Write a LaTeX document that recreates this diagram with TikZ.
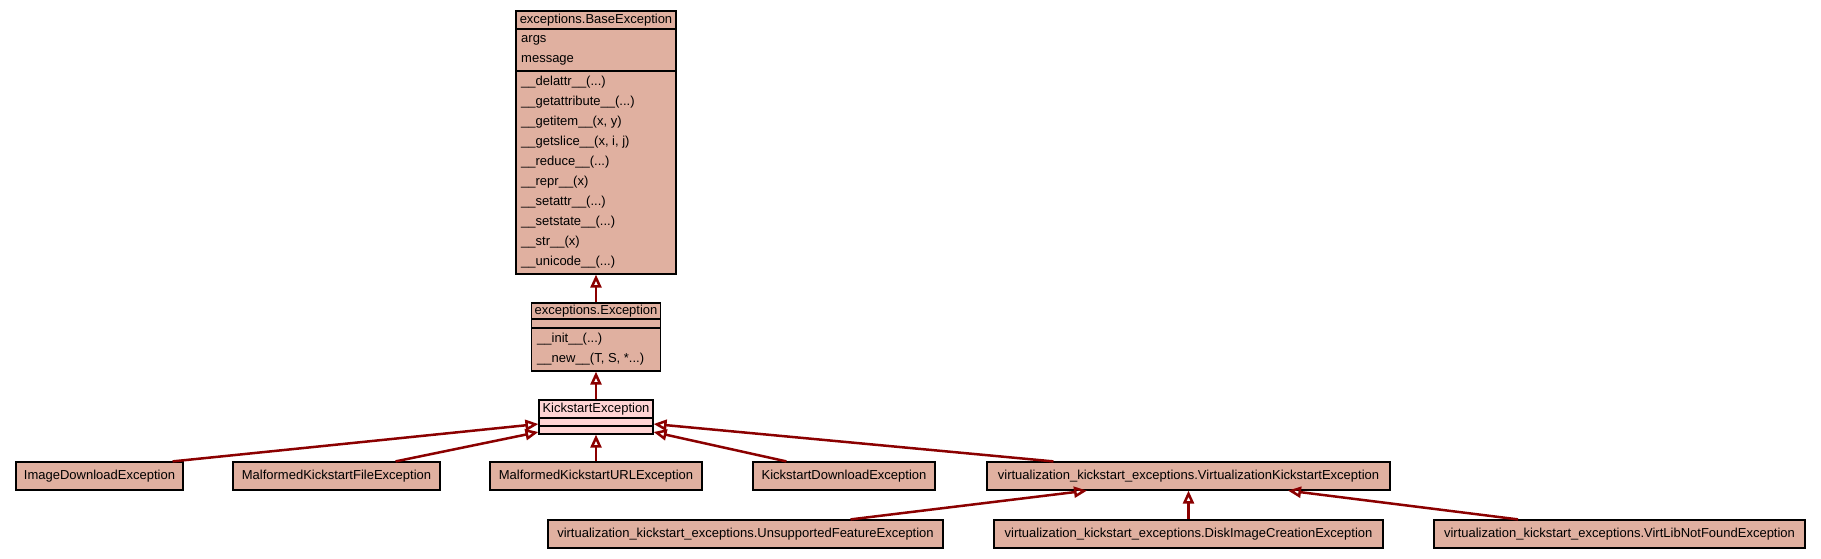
\documentclass[tikz,border=0pt]{standalone}
\usepackage{fontspec}
\setmainfont{Liberation Sans}
\usetikzlibrary{arrows.meta}
\definecolor{boxfill}{HTML}{E0B0A0}
\definecolor{ksfill}{HTML}{FFD4D4}
\definecolor{edgecol}{HTML}{8B0000}
\begin{document}
\begin{tikzpicture}[x=1pt,y=-1pt,
  font=\fontsize{13}{15}\selectfont,
  box/.style={draw=black, line width=1.2pt, fill=boxfill, inner sep=0pt, minimum height=28pt, text height=9.5pt, text depth=2.5pt},
  frame/.style={draw=black, line width=1.2pt, fill=#1, inner sep=0pt},
  sep/.style={draw=black, line width=1.8pt},
  txt/.style={inner sep=0pt, text height=9.5pt, text depth=2.5pt},
  member/.style={txt, anchor=west},
  edge/.style={draw=edgecol, line width=2.5pt, -{Triangle[open, length=13pt, width=11pt]}}
]
\useasboundingbox (0,0) rectangle (1821,559);

% BaseException
\node[frame=boxfill, minimum width=160pt, minimum height=263pt] (base) at (596,142.5) {};
\node[txt] (baset) at (596,20) {exceptions.BaseException};
\draw[sep] (516,29) -- (676,29);
\draw[sep] (516,71) -- (676,71);
\node[member] (b1) at (521,39) {args};
\node[member] (b2) at (521,59) {message};
\node[member] (m1) at (521,82) {\_\_delattr\_\_(...)};
\node[member] (m2) at (521,102) {\_\_getattribute\_\_(...)};
\node[member] (m3) at (521,122) {\_\_getitem\_\_(x, y)};
\node[member] (m4) at (521,142) {\_\_getslice\_\_(x, i, j)};
\node[member] (m5) at (521,162) {\_\_reduce\_\_(...)};
\node[member] (m6) at (521,182) {\_\_repr\_\_(x)};
\node[member] (m7) at (521,202) {\_\_setattr\_\_(...)};
\node[member] (m8) at (521,222) {\_\_setstate\_\_(...)};
\node[member] (m9) at (521,242) {\_\_str\_\_(x)};
\node[member] (m10) at (521,262) {\_\_unicode\_\_(...)};

% Exception
\node[frame=boxfill, minimum width=129pt, minimum height=68pt] (exc) at (596,337) {};
\node[txt] (exct) at (596,311) {exceptions.Exception};
\draw[sep] (531.5,319) -- (660.5,319);
\draw[sep] (531.5,328) -- (660.5,328);
\node[member] (e1) at (537,339) {\_\_init\_\_(...)};
\node[member] (e2) at (537,359) {\_\_new\_\_(T, S, *...)};

% KickstartException
\node[frame=ksfill, minimum width=114pt, minimum height=34pt] (ks) at (596,417) {};
\node[txt] (kst) at (596,409) {KickstartException};
\draw[sep] (539,418) -- (653,418);
\draw[sep] (539,426) -- (653,426);

% leaves
\node[box, minimum width=167pt] (img) at (99.5,476) {ImageDownloadException};
\node[box, minimum width=207pt] (mfile) at (336.5,476) {MalformedKickstartFileException};
\node[box, minimum width=212pt] (murl) at (596,476) {MalformedKickstartURLException};
\node[box, minimum width=182pt] (kdl) at (844,476) {KickstartDownloadException};
\node[box, minimum width=403pt] (virt) at (1188.5,476) {virtualization\_kickstart\_exceptions.VirtualizationKickstartException};
\node[box, minimum width=395pt] (uns) at (745.5,534) {virtualization\_kickstart\_exceptions.UnsupportedFeatureException};
\node[box, minimum width=389pt] (disk) at (1188.5,534) {virtualization\_kickstart\_exceptions.DiskImageCreationException};
\node[box, minimum width=371pt] (vlib) at (1619.5,534) {virtualization\_kickstart\_exceptions.VirtLibNotFoundException};

% edges
\draw[edge] (exc.north) -- (base.south);
\draw[edge] (ks.north) -- (exc.south);
\draw[edge] ([xshift=-11pt]img.north east) -- ([yshift=-7pt]ks.west);
\draw[edge] ([xshift=-45pt]mfile.north east) -- ([yshift=-15pt]ks.west);
\draw[edge] (murl.north) -- (ks.south);
\draw[edge] ([xshift=34pt]kdl.north west) -- ([yshift=-15pt]ks.east);
\draw[edge] ([xshift=67pt]virt.north west) -- ([yshift=-7pt]ks.east);
\draw[edge] ([xshift=-93pt]uns.north east) -- ([xshift=-101.5pt]virt.south);
\draw[edge] (disk.north) -- (virt.south);
\draw[edge] ([xshift=-101.5pt]vlib.north) -- ([xshift=99.5pt]virt.south);
\end{tikzpicture}
\end{document}
